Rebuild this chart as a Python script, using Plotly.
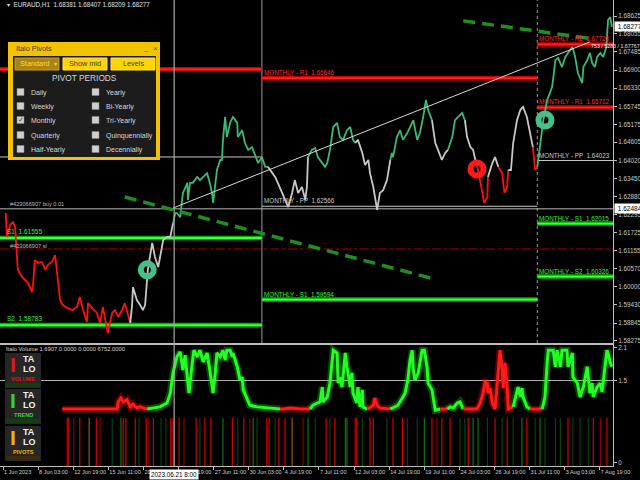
import plotly.graph_objects as go

# ------------------------------------------------------------------ data
tick_bar = [0, 64, 128, 192, 256, 320, 384, 448, 512, 576, 640, 704, 768, 832, 896, 960, 1024, 1088]
tick_label = ["1 Jun 2023", "8 Jun 03:00", "12 Jun 19:00", "15 Jun 11:00", "20 Jun 03:00",
              "22 Jun 19:00", "27 Jun 11:00", "30 Jun 03:00", "4 Jul 19:00", "7 Jul 11:00",
              "12 Jul 03:00", "14 Jul 19:00", "19 Jul 11:00", "24 Jul 03:00", "26 Jul 19:00",
              "31 Jul 11:00", "3 Aug 03:00", "7 Aug 19:00"]

price_tick = [1.58275, 1.58845, 1.59430, 1.60000, 1.60570, 1.61155, 1.61725, 1.62295, 1.62880,
              1.63450, 1.64020, 1.64605, 1.65175, 1.65745, 1.66330, 1.66900, 1.67485, 1.68055, 1.68625]

# close path, one list per trend run (down = red, flat = grey, up = green)
price_trend = ["down", "flat", "up", "flat", "up", "flat", "up", "flat", "up", "flat",
               "down", "flat", "down", "flat", "down", "up"]
price_bar = [
    [5, 7, 13, 18, 22, 24, 27, 35, 40, 46, 53, 55, 58, 64, 71, 77, 82, 89, 95, 100, 104, 109, 117,
     126, 135, 140, 146, 153, 155, 162, 171, 177, 182, 191, 199, 204, 210, 217, 222, 228, 232],
    [235, 237, 244, 250, 255, 259, 261, 264, 272, 277, 283, 286, 292, 299, 305, 310],
    [314, 317, 323, 328, 336, 337, 341, 346, 354, 359, 365, 372, 377, 381, 383, 387, 390, 396, 399,
     401, 405, 408, 414, 419, 427, 428, 436, 441, 447, 454, 460, 465, 472, 478, 483],
    [491, 496, 501, 509, 514, 520, 527, 532, 538, 545, 551, 554, 556],
    [563, 569, 574, 582, 587, 591, 596, 602, 609, 614, 620, 627, 633, 638, 642],
    [647, 655, 660, 666, 669, 675, 682, 687, 693, 700, 706],
    [709, 711, 718, 724, 729, 737, 742, 748, 755, 760, 766, 771, 775, 782],
    [788, 793, 800, 806, 811],
    [819, 824, 830, 837, 842],
    [846, 852, 857, 861],
    [866, 873, 877, 883, 884],
    [892, 897, 903],
    [910, 914, 919, 921],
    [926, 930, 937, 943, 948, 955, 961, 966],
    [970, 974],
    [979, 985, 992, 997, 1001, 1007, 1012, 1019, 1025, 1030, 1038, 1043, 1048, 1056, 1058, 1065,
     1070, 1074, 1079, 1083, 1089, 1094, 1100, 1101, 1103, 1107, 1110],
]
price_close = [
    [1.6235, 1.6159, 1.6197, 1.6206, 1.6191, 1.6117, 1.6054, 1.6031, 1.6022, 1.6012, 1.5983, 1.6012,
     1.6085, 1.6076, 1.6079, 1.6054, 1.6070, 1.6079, 1.6101, 1.6031, 1.5958, 1.5942, 1.5933, 1.5926,
     1.5936, 1.5968, 1.5926, 1.5888, 1.5948, 1.5933, 1.5917, 1.5885, 1.5936, 1.5853, 1.5917, 1.5926,
     1.5904, 1.5926, 1.5948, 1.5910, 1.5885],
    [1.5936, 1.5999, 1.5958, 1.5942, 1.5926, 1.5942, 1.5999, 1.6054, 1.6140, 1.6095, 1.6063, 1.6095,
     1.6149, 1.6159, 1.6159, 1.6203],
    [1.6235, 1.6235, 1.6222, 1.6299, 1.6331, 1.6277, 1.6331, 1.6331, 1.6350, 1.6340, 1.6350, 1.6362,
     1.6331, 1.6299, 1.6267, 1.6340, 1.6372, 1.6404, 1.6404, 1.6468, 1.6541, 1.6477, 1.6522, 1.6541,
     1.6522, 1.6477, 1.6499, 1.6458, 1.6436, 1.6445, 1.6413, 1.6394, 1.6413, 1.6382, 1.6382],
    [1.6362, 1.6350, 1.6331, 1.6299, 1.6277, 1.6254, 1.6299, 1.6340, 1.6299, 1.6318, 1.6277, 1.6318,
     1.6413],
    [1.6436, 1.6442, 1.6413, 1.6394, 1.6382, 1.6394, 1.6436, 1.6509, 1.6522, 1.6477, 1.6468, 1.6499,
     1.6509, 1.6468, 1.6458],
    [1.6468, 1.6426, 1.6388, 1.6404, 1.6362, 1.6318, 1.6245, 1.6299, 1.6308, 1.6340, 1.6404],
    [1.6426, 1.6413, 1.6477, 1.6499, 1.6468, 1.6490, 1.6509, 1.6531, 1.6468, 1.6490, 1.6541, 1.6595,
     1.6563, 1.6531],
    [1.6458, 1.6436, 1.6404, 1.6426, 1.6436],
    [1.6477, 1.6531, 1.6541, 1.6554, 1.6531],
    [1.6477, 1.6445, 1.6436, 1.6404],
    [1.6372, 1.6308, 1.6267, 1.6286, 1.6350],
    [1.6394, 1.6413, 1.6382],
    [1.6362, 1.6299, 1.6318, 1.6372],
    [1.6372, 1.6458, 1.6531, 1.6563, 1.6573, 1.6541, 1.6490, 1.6445],
    [1.6372, 1.6382],
    [1.6458, 1.6531, 1.6595, 1.6617, 1.6636, 1.6722, 1.6729, 1.6700, 1.6732, 1.6745, 1.6764, 1.6732,
     1.6681, 1.6649, 1.6700, 1.6722, 1.6745, 1.6713, 1.6700, 1.6732, 1.6745, 1.6732, 1.6764, 1.6796,
     1.6850, 1.6859, 1.6828],
]

# monthly pivot levels
pivot_month = ["Jun", "Jun", "Jun", "Jun", "Jul", "Jul", "Jul", "Aug", "Aug", "Aug", "Aug", "Aug"]
pivot_name = ["R1", "PP", "S1", "S2", "R1", "PP", "S1", "R2", "R1", "PP", "S1", "S2"]
pivot_value = [1.6693, 1.64135, 1.61555, 1.58783, 1.66646, 1.62566, 1.59594,
               1.67720, 1.65712, 1.64023, 1.62015, 1.60326]
month_name = ["Jun", "Jul", "Aug"]
month_start = [-6, 472, 974]
month_end = [472, 974, 1113]

# trend lines and signals
dash_bar = [[222, 779], [839, 1079]]
dash_price = [[1.6286, 1.6028], [1.6847, 1.6789]]
thin_bar = [310, 1070]
thin_price = [1.6251, 1.6780]
signal_bar = [263, 864, 988]
signal_price = [1.6054, 1.6375, 1.6531]
signal_side = ["buy", "sell", "buy"]

order_price = 1.62484
sl_price = 1.61205
last_price = 1.68277
cursor_bar = 312

# Italo Volume indicator
vol_state = ["red", "green", "red", "green", "red", "green", "red", "green", "red", "green", "red", "green"]
vol_bar = [
    [108, 208, 210, 215, 219, 226, 232, 237, 244, 250, 263],
    [274, 286, 299, 305, 310, 317, 323, 328, 332, 336, 339, 345, 348, 354, 359, 365, 372, 377, 381,
     383, 387, 390, 396, 401, 405, 408, 414, 418, 419, 427, 432, 436, 438, 445, 450, 463, 481, 505],
    [511, 523, 542, 560],
    [565, 573, 578, 582, 583, 591, 596, 602, 609, 611, 614, 618, 620, 624, 627, 633, 636, 638, 645,
     647, 651, 655, 656, 664],
    [669, 675, 678, 682, 687, 706],
    [711, 720, 728, 733, 738, 742, 746, 748, 751, 757, 764, 768, 773, 775, 782, 784, 788, 797],
    [810],
    [815, 821, 828, 833, 839],
    [846, 864, 870, 875, 879, 883, 884, 888, 892, 897, 906, 910, 912, 915, 919, 921, 930],
    [937, 939, 943, 946, 948, 955, 961],
    [966, 983],
    [988, 992, 994, 1003, 1007, 1010, 1016, 1019, 1028, 1030, 1038, 1039, 1047, 1052, 1058, 1065,
     1067, 1070, 1074, 1076, 1083, 1089, 1092, 1094, 1098, 1101, 1103, 1107, 1110],
]
vol_value = [
    [0.98, 0.98, 1.11, 1.18, 1.11, 1.15, 1.02, 1.07, 1.00, 1.02, 0.98],
    [1.00, 1.02, 1.09, 1.27, 1.64, 1.93, 2.02, 1.69, 1.96, 1.51, 1.27, 1.82, 2.05, 1.93, 2.05, 1.84,
     2.00, 1.69, 1.33, 1.27, 1.64, 2.00, 1.93, 2.05, 1.87, 2.05, 2.05, 1.93, 2.00, 1.75, 1.51, 1.56,
     1.33, 1.15, 1.05, 1.02, 1.00, 0.98],
    [0.98, 1.00, 0.98, 0.98],
    [1.05, 1.09, 1.11, 1.38, 1.11, 1.20, 1.45, 2.05, 2.00, 1.45, 1.56, 1.38, 1.64, 2.00, 1.75, 1.38,
     1.64, 1.27, 1.09, 1.38, 1.02, 1.33, 1.02, 0.98],
    [1.00, 1.05, 1.18, 1.05, 1.00, 0.98],
    [1.00, 1.05, 1.18, 1.27, 1.51, 1.87, 2.05, 1.69, 1.51, 1.64, 2.05, 2.05, 1.75, 1.45, 1.33, 1.20,
     0.96, 0.98],
    [0.98],
    [1.02, 1.00, 1.09, 1.11, 0.98],
    [0.98, 0.98, 1.09, 1.27, 1.47, 1.45, 1.27, 1.36, 1.09, 0.98, 2.05, 1.69, 1.36, 1.82, 1.38, 0.98,
     1.02],
    [1.33, 1.38, 1.20, 1.36, 1.20, 1.02, 0.98],
    [0.98, 0.98],
    [1.20, 1.82, 2.05, 2.05, 1.75, 2.05, 1.75, 2.05, 2.05, 1.75, 2.00, 1.56, 1.45, 1.20, 1.38, 1.75,
     1.51, 1.27, 1.45, 1.20, 1.38, 1.45, 1.29, 1.45, 1.82, 2.05, 2.00, 1.82, 1.75],
]
vol_level = 1.5

# histogram strokes under the indicator line
stroke_bar = [117, 120, 129, 140, 157, 170, 177, 199, 215, 219, 224, 241, 248, 261, 266, 274, 288,
              297, 306, 310, 321, 330, 352, 359, 368, 379, 401, 418, 428, 439, 450, 456, 463, 481,
              485, 496, 503, 514, 527, 547, 556, 569, 589, 596, 605, 624, 627, 642, 645, 655, 669,
              675, 700, 711, 728, 737, 755, 768, 782, 791, 800, 815, 833, 842, 848, 857, 866, 883,
              897, 910, 919, 930, 946, 955, 970, 979, 988, 1007, 1016, 1030, 1039, 1052, 1067, 1076,
              1089, 1101]
stroke_kind = ["r", "r", "m", "r", "o", "r", "m", "d", "g", "r", "r", "r", "d", "r", "m", "r", "d",
               "d", "r", "r", "r", "m", "r", "d", "r", "r", "g", "r", "d", "r", "m", "g", "d", "r",
               "r", "d", "r", "r", "o", "m", "g", "d", "r", "d", "r", "g", "g", "r", "r", "d", "r",
               "r", "d", "r", "r", "d", "d", "g", "r", "m", "r", "r", "d", "d", "r", "g", "g", "d",
               "r", "d", "r", "d", "g", "r", "d", "g", "d", "d", "d", "r", "d", "d", "d", "r", "m",
               "r"]
stroke_top = 0.82

# ------------------------------------------------------------------ layout helpers
PW, PH = 613.0, 468.0          # plot area in pixels (margins l=0 r=27 t=0 b=12)


def px(x, y):
    return x / PW, 1 - y / PH


FONT = "Liberation Sans"
fig = go.Figure()

# ------------------------------------------------------------------ price panel
price_color = {"down": "#ff1010", "flat": "#c8c8c8", "up": "#3cb878"}
prev = None
for state, bars, closes in zip(price_trend, price_bar, price_close):
    xs, ys = list(bars), list(closes)
    if prev is not None:
        xs = [prev[0]] + xs
        ys = [prev[1]] + ys
    fig.add_trace(go.Scatter(x=xs, y=ys, mode="lines", line=dict(color=price_color[state], width=1.8),
                             xaxis="x", yaxis="y", hoverinfo="skip"))
    prev = (bars[-1], closes[-1])

# pivot levels
shapes = []
annotations = []
for m, name, val in zip(pivot_month, pivot_name, pivot_value):
    i = month_name.index(m)
    x0, x1 = month_start[i], month_end[i]
    if name.startswith("R"):
        col_glow, col_core, lab = "#c80000", "#ff2020", "#ff2a2a"
    elif name.startswith("S"):
        col_glow, col_core, lab = "#00b000", "#40ff40", "#33ee33"
    else:
        col_glow, col_core, lab = None, "#c8c8c8", "#c8c8c8"
    if col_glow:
        shapes.append(dict(type="line", xref="x", yref="y", x0=x0, x1=x1, y0=val, y1=val,
                           line=dict(color=col_glow, width=4.5), layer="below"))
        shapes.append(dict(type="line", xref="x", yref="y", x0=x0, x1=x1, y0=val, y1=val,
                           line=dict(color=col_core, width=1.8), layer="below"))
    else:
        shapes.append(dict(type="line", xref="x", yref="y", x0=x0, x1=x1, y0=val, y1=val,
                           line=dict(color=col_core, width=1), layer="below"))
    if m == "Jun":
        if name in ("S1", "S2"):
            annotations.append(dict(xref="x", yref="y", x=x0 + 10, y=val, text=f"{name}  {val:.5f}",
                                    showarrow=False, xanchor="left", yanchor="bottom", yshift=1,
                                    font=dict(family=FONT, size=6.5, color=lab)))
    else:
        annotations.append(dict(xref="x", yref="y", x=x0, y=val, text=f"MONTHLY - {name}  {val:.5f}",
                                showarrow=False, xanchor="left", yanchor="bottom", yshift=0,
                                font=dict(family=FONT, size=6.3, color=lab)))

# month separators
shapes.append(dict(type="line", xref="x", yref="paper", x0=month_start[1], x1=month_start[1],
                   y0=0.2671, y1=1, line=dict(color="#9a9a9a", width=1), layer="below"))
shapes.append(dict(type="line", xref="x", yref="paper", x0=month_start[2], x1=month_start[2],
                   y0=0.2671, y1=1, line=dict(color="#9a9a9a", width=1, dash="dot"), layer="below"))
# order line and stop loss
shapes.append(dict(type="line", xref="paper", yref="y", x0=0, x1=1, y0=order_price, y1=order_price,
                   line=dict(color="#b8b8b8", width=1), layer="below"))
shapes.append(dict(type="line", xref="paper", yref="y", x0=0, x1=1, y0=sl_price, y1=sl_price,
                   line=dict(color="#b00000", width=1, dash="dashdot"), layer="below"))
# cursor
shapes.append(dict(type="line", xref="x", yref="paper", x0=cursor_bar, x1=cursor_bar, y0=0.0043, y1=1,
                   line=dict(color="#a8a8a8", width=1.2)))

# trend lines
for b, p in zip(dash_bar, dash_price):
    fig.add_trace(go.Scatter(x=b, y=p, mode="lines", line=dict(color="#1f8f1f", width=3.5, dash="12px,7px"),
                             xaxis="x", yaxis="y", hoverinfo="skip"))
fig.add_trace(go.Scatter(x=thin_bar, y=thin_price, mode="lines", line=dict(color="#d8d8d8", width=1),
                         xaxis="x", yaxis="y", hoverinfo="skip"))

# signals
sig_col = {"buy": "#45c08a", "sell": "#ff1a1a"}
fig.add_trace(go.Scatter(x=signal_bar, y=signal_price, mode="markers",
                         marker=dict(symbol="circle-open", size=13,
                                     color=[sig_col[s] for s in signal_side],
                                     line=dict(width=6, color=[sig_col[s] for s in signal_side])),
                         xaxis="x", yaxis="y", hoverinfo="skip"))

# ------------------------------------------------------------------ volume panel
vcol = {"red": ("rgba(255,0,0,0.35)", "#ff1a1a"), "green": ("rgba(0,255,0,0.30)", "#22ff22")}
prev = None
for state, bars, vals in zip(vol_state, vol_bar, vol_value):
    xs, ys = list(bars), list(vals)
    if prev is not None:
        xs = [prev[0]] + xs
        ys = [prev[1]] + ys
    glow, core = vcol[state]
    fig.add_trace(go.Scatter(x=xs, y=ys, mode="lines", line=dict(color=glow, width=7),
                             xaxis="x2", yaxis="y2", hoverinfo="skip"))
    fig.add_trace(go.Scatter(x=xs, y=ys, mode="lines", line=dict(color=core, width=3),
                             xaxis="x2", yaxis="y2", hoverinfo="skip"))
    prev = (bars[-1], vals[-1])

stroke_color = {"r": "#ff0000", "m": "#a00000", "g": "#118a11", "d": "#0b4d0b", "o": "#b86a00"}
for k, c in stroke_color.items():
    xs, ys = [], []
    for b, kind in zip(stroke_bar, stroke_kind):
        if kind == k:
            xs += [b, b, None]
            ys += [-0.06, stroke_top, None]
    if xs:
        fig.add_trace(go.Scatter(x=xs, y=ys, mode="lines", line=dict(color=c, width=1),
                                 xaxis="x2", yaxis="y2", hoverinfo="skip"))

shapes.append(dict(type="line", xref="paper", yref="y2", x0=0, x1=1, y0=vol_level, y1=vol_level,
                   line=dict(color="#b0b0b0", width=1.2), layer="below"))

# ------------------------------------------------------------------ texts on chart
def txt(x, y, s, size=6.5, color="#d0d0d0", anchor="left", bg=None, yanchor="middle", bold=False):
    xp, yp = px(x, y)
    d = dict(xref="paper", yref="paper", x=xp, y=yp, text=f"<b>{s}</b>" if bold else s, showarrow=False,
             xanchor=anchor, yanchor=yanchor, font=dict(family=FONT, size=size, color=color))
    if bg:
        d["bgcolor"] = bg
        d["borderpad"] = 0
    annotations.append(d)


txt(5, 5, "▾  EURAUD,H1  1.68381 1.68407 1.68209 1.68277", size=6.3, color="#e0e0e0")
txt(8, 204, "#423066907 buy 0.01", size=5.6, color="#bdbdbd")
txt(8, 246, "#423066907 sl", size=5.6, color="#bdbdbd")
txt(589, 46, "753 / 5283 / 1.67767", size=5.3, color="#e8e8e8")
txt(4, 349, "Italo Volume 1.6907 0.0000 0.0000 6752.0000", size=5.8, color="#d8d8d8")

# right-axis highlight boxes
annotations.append(dict(xref="paper", yref="y", x=1.0, y=last_price, text=" 1.68277", showarrow=False,
                        xanchor="left", yanchor="middle", xshift=1, bgcolor="#ffffff",
                        font=dict(family=FONT, size=6.5, color="#000000")))
annotations.append(dict(xref="paper", yref="y", x=1.0, y=order_price, text=" 1.62484", showarrow=False,
                        xanchor="left", yanchor="middle", xshift=1, bgcolor="#ffffff",
                        font=dict(family=FONT, size=6.5, color="#000000")))
# cursor time box
annotations.append(dict(xref="x", yref="paper", x=cursor_bar, y=0, text="2023.06.21 8:00", showarrow=False,
                        xanchor="center", yanchor="top", yshift=-1, bgcolor="#ffffff",
                        font=dict(family=FONT, size=6.3, color="#000000")))

# ------------------------------------------------------------------ Italo Pivots panel
def rect(x0, y0, x1, y1, fill, line=None, lw=0):
    a0, b0 = px(x0, y0)
    a1, b1 = px(x1, y1)
    shapes.append(dict(type="rect", xref="paper", yref="paper", x0=a0, x1=a1, y0=b1, y1=b0,
                       fillcolor=fill, line=dict(color=line or fill, width=lw), layer="above"))


rect(8, 42, 160, 160, "#f2c300")
rect(13, 56, 156, 157, "#1c1c1c")
txt(14, 49, "Italo Pivots", size=7.3, color="#3a3a3a")
txt(141, 48, "_", size=7, color="#555555")
txt(151, 49, "×", size=8, color="#555555")
rect(15, 58, 59, 70, "#a88412", "#c9a01a", 1)
txt(18, 64, "Standard", size=7.3, color="#ffd84a")
txt(52, 64, "▾", size=6, color="#ffd84a")
rect(63, 58, 107, 70, "#ffd400", "#ffe060", 1)
txt(85, 64, "Show mid", size=7.3, color="#3a3a3a", anchor="center")
rect(111, 58, 155, 70, "#ffd400", "#ffe060", 1)
txt(133, 64, "Levels", size=7.3, color="#3a3a3a", anchor="center")
txt(84, 78, "PIVOT PERIODS", size=8.3, color="#d8d8d8", anchor="center")

left_opts = ["Daily", "Weekly", "Monthly", "Quarterly", "Half-Yearly"]
right_opts = ["Yearly", "Bi-Yearly", "Tri-Yearly", "Quinquennially", "Decennially"]
row_y = [92, 106, 120, 135, 149]
for ry, lo, ro in zip(row_y, left_opts, right_opts):
    rect(17, ry - 3.5, 24, ry + 3.5, "#cfcfcf", "#8a8a8a", 0.5)
    txt(29, ry + 1, lo, size=7, color="#d8d8d8")
    rect(92, ry - 3.5, 99, ry + 3.5, "#cfcfcf", "#8a8a8a", 0.5)
    txt(104, ry + 1, ro, size=7, color="#d8d8d8")
    if lo == "Monthly":
        txt(20.5, ry, "✓", size=7, color="#333333", anchor="center")

# ------------------------------------------------------------------ ITALO logos
logos = [("VOLUME", "#e01818", 353), ("TREND", "#39d039", 389), ("PIVOTS", "#f0b400", 426)]
for word, col, top in logos:
    rect(5, top, 41, top + 35, "#262626")
    txt(13, top + 11, "I", size=21, color=col, anchor="center", bold=True)
    txt(29, top + 6, "TA", size=9, color="#f2f2f2", anchor="center", bold=True)
    txt(29, top + 16, "LO", size=9, color="#f2f2f2", anchor="center", bold=True)
    txt(23, top + 26, word, size=5.6, color=col, anchor="center", bold=True)
    rect(6, top + 30, 40, top + 34, "#143d14" if word != "PIVOTS" else "#3d2a08")

# ------------------------------------------------------------------ axes
fig.update_layout(
    width=640, height=480,
    margin=dict(l=0, r=27, t=0, b=12, autoexpand=False),
    paper_bgcolor="#000000", plot_bgcolor="#000000",
    showlegend=False,
    font=dict(family=FONT, size=7, color="#c8c8c8"),
    shapes=shapes, annotations=annotations,
    xaxis=dict(domain=[0, 1], range=[-5.5, 1112], anchor="y", showgrid=False, zeroline=False,
               showticklabels=False, showline=True, linecolor="#bdbdbd", linewidth=1, ticks=""),
    xaxis2=dict(domain=[0, 1], matches="x", anchor="y2", showgrid=False, zeroline=False,
                showline=True, mirror=True, linecolor="#bdbdbd", linewidth=1,
                tickmode="array", tickvals=tick_bar, ticktext=tick_label, ticks="outside",
                ticklen=3, tickcolor="#bdbdbd", ticklabelposition="outside right", tickangle=0,
                ticklabelstandoff=0,
                tickfont=dict(family=FONT, size=5.5, color="#d0d0d0")),
    yaxis=dict(domain=[0.2671, 1], range=[1.58211, 1.69135], side="right", anchor="x",
               showgrid=False, zeroline=False, showline=True, linecolor="#bdbdbd", linewidth=1,
               tickmode="array", tickvals=price_tick, ticktext=[f"{v:.5f}" for v in price_tick],
               ticks="outside", ticklen=3, tickcolor="#bdbdbd",
               tickfont=dict(family=FONT, size=6.3, color="#c8c8c8")),
    yaxis2=dict(domain=[0.0043, 0.2628], range=[-0.055, 2.145], side="right", anchor="x2",
                showgrid=False, zeroline=False, showline=True, linecolor="#bdbdbd", linewidth=1,
                tickmode="array", tickvals=[0, 1.5, 2.1], ticktext=["0", "1.5", "2.1"],
                ticks="outside", ticklen=3, tickcolor="#bdbdbd",
                tickfont=dict(family=FONT, size=6.3, color="#c8c8c8")),
)

fig.write_html("out.html", config={"displayModeBar": False},
               post_script="document.body.style.margin='0';document.body.style.padding='0';"
                           "document.body.style.background='#000';")
